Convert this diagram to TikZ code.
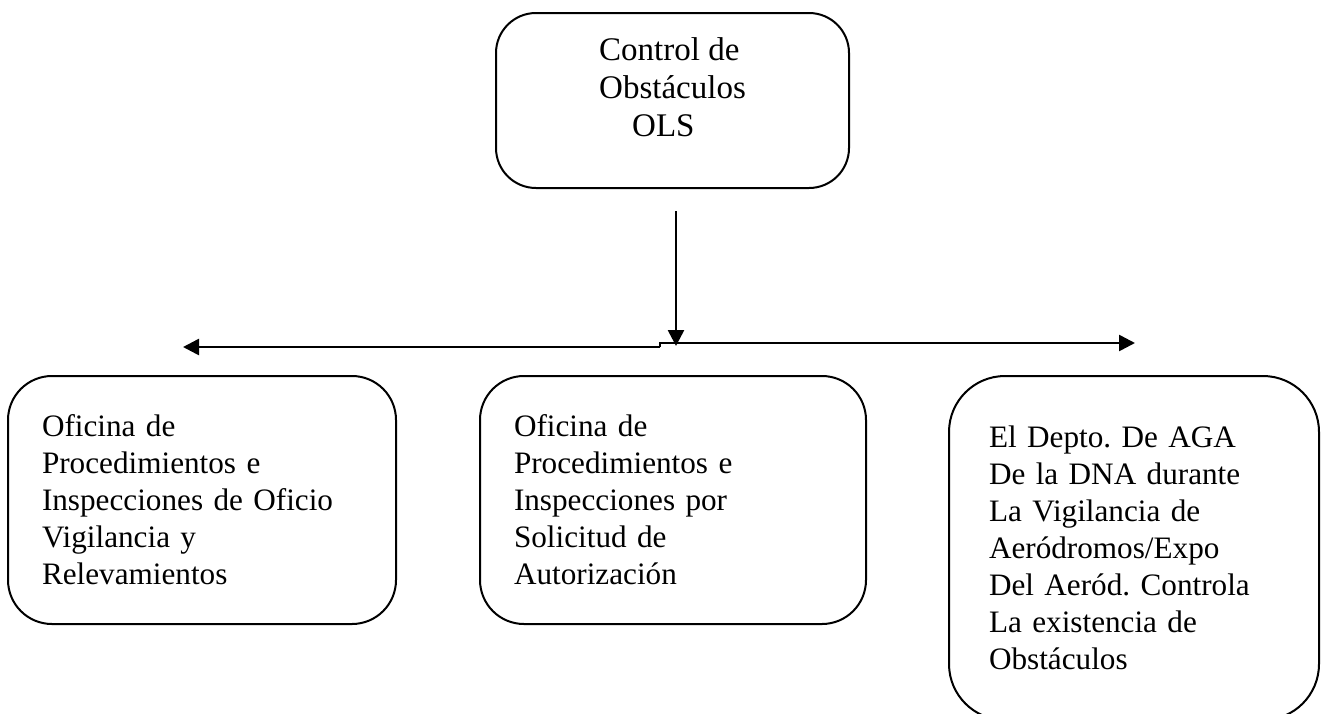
\documentclass[tikz,border=0pt]{standalone}
\usepackage{fontspec}
\setmainfont{Liberation Serif}
\usetikzlibrary{arrows.meta}

\tikzset{
	box/.style={draw, line width=1pt, anchor=north west, align=left, inner ysep=0pt,
		font=\frenchspacing\fontsize{15.6pt}{18.5pt}\selectfont},
	link/.style={line width=1.3pt, -{Triangle[length=8pt,width=8pt]}}
}

\begin{document}
\begin{tikzpicture}[x=0.5pt, y=-0.5pt]
					\useasboundingbox (0,0) rectangle (1322,713);

					\node [box, rounded corners=20pt, minimum width=176.5pt, minimum height=87.5pt, text depth=13.5pt,
						font=\frenchspacing\fontsize{16.5pt}{19pt}\selectfont] (ols) at (495,12)
						{Control de\\Obstáculos\\\hspace{16.5pt}OLS};

					\node [box, rounded corners=22pt, minimum width=194pt, minimum height=124pt, inner xsep=17pt, text width=160pt] (oficio) at (7,375)
						{Oficina de\\Procedimientos e\\Inspecciones de Oficio\\Vigilancia y\\Relevamientos};
					\node [box, rounded corners=22pt, minimum width=193pt, minimum height=124pt, inner xsep=17pt, text width=159pt] (solicitud) at (479,375)
						{Oficina de\\Procedimientos e\\Inspecciones por\\Solicitud de\\Autorización};
					\node [box, rounded corners=28pt, minimum width=185pt, minimum height=172pt, inner xsep=20pt, text width=145pt] (aga) at (948,375)
						{El Depto. De AGA\\De la DNA durante\\La Vigilancia de\\Aeródromos/Expo\\Del Aeród. Controla\\La existencia de\\Obstáculos\par\vspace*{10pt}};

					\coordinate (down) at (676,211);
					\coordinate (hit) at (676,346);
					\coordinate (stepl) at (660,347);
					\coordinate (stepr) at (660,343);
					\coordinate (endl) at (183,347);
					\coordinate (endr) at (1135,343);

					\draw [link] (down) -- (hit);
					\draw [link] (stepl) -- (endl);
					\draw [link] (stepl) -- (stepr) -- (endr);
				\end{tikzpicture}
\end{document}
